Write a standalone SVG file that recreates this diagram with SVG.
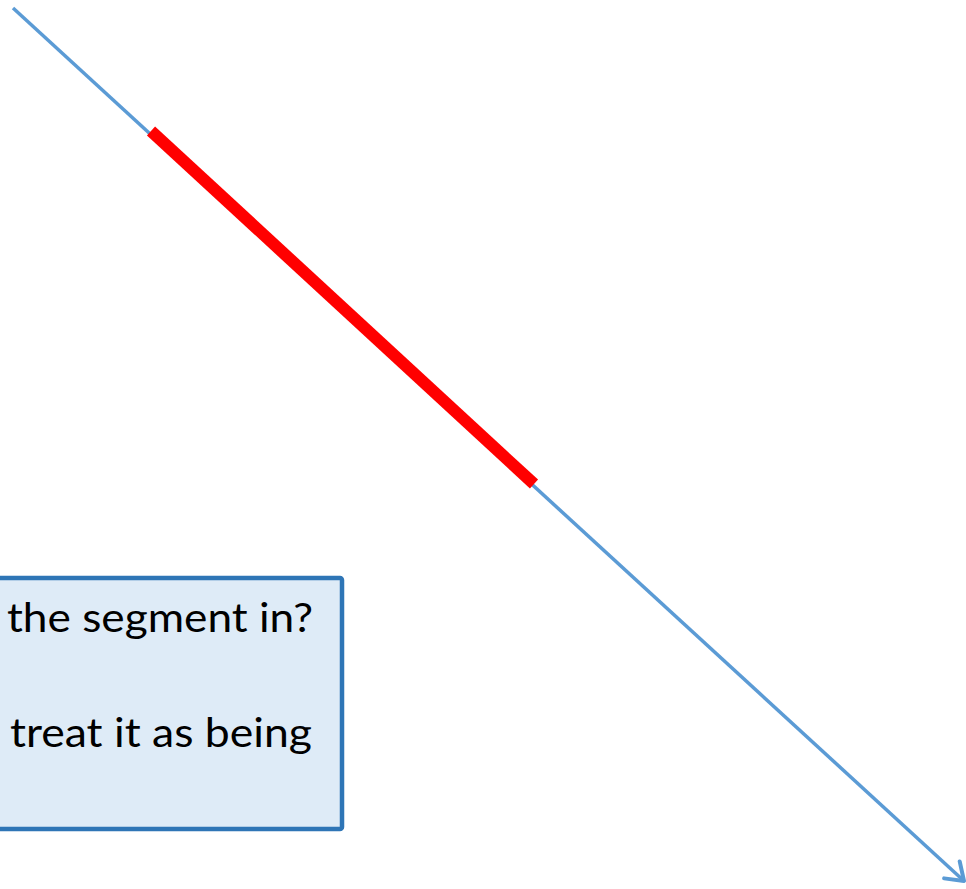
<svg xmlns="http://www.w3.org/2000/svg" width="966" height="889" viewBox="0 0 966 889">
<style>
.lbl{font-family:Lato,"Open Sans","Liberation Sans",sans-serif;font-size:40px;fill:#000}
</style>
<defs>
<marker id="arr" markerWidth="30" markerHeight="30" refX="0" refY="0" orient="auto" markerUnits="userSpaceOnUse" overflow="visible">
<path d="M-16.4,-11.5 L0,0 L-16.4,11.5" fill="none" stroke="#5B9BD5" stroke-width="4" stroke-linecap="round" stroke-linejoin="round"/>
</marker>
</defs>
<g id="connectors">
<line x1="13" y1="8" x2="964" y2="881" stroke="#5B9BD5" stroke-width="3.5" marker-end="url(#arr)"/>
<line x1="151" y1="131" x2="534" y2="484" stroke="#FF0000" stroke-width="12"/>
</g>
<g id="box">
<rect x="-10" y="578" width="352" height="251" rx="2" fill="#DEEBF7" stroke="#2E75B6" stroke-width="4.5"/>
<text class="lbl" x="7" y="632" textLength="306" lengthAdjust="spacingAndGlyphs">the segment in?</text>
<text class="lbl" x="10" y="747" textLength="302" lengthAdjust="spacingAndGlyphs">treat it as being</text>
</g>
</svg>
